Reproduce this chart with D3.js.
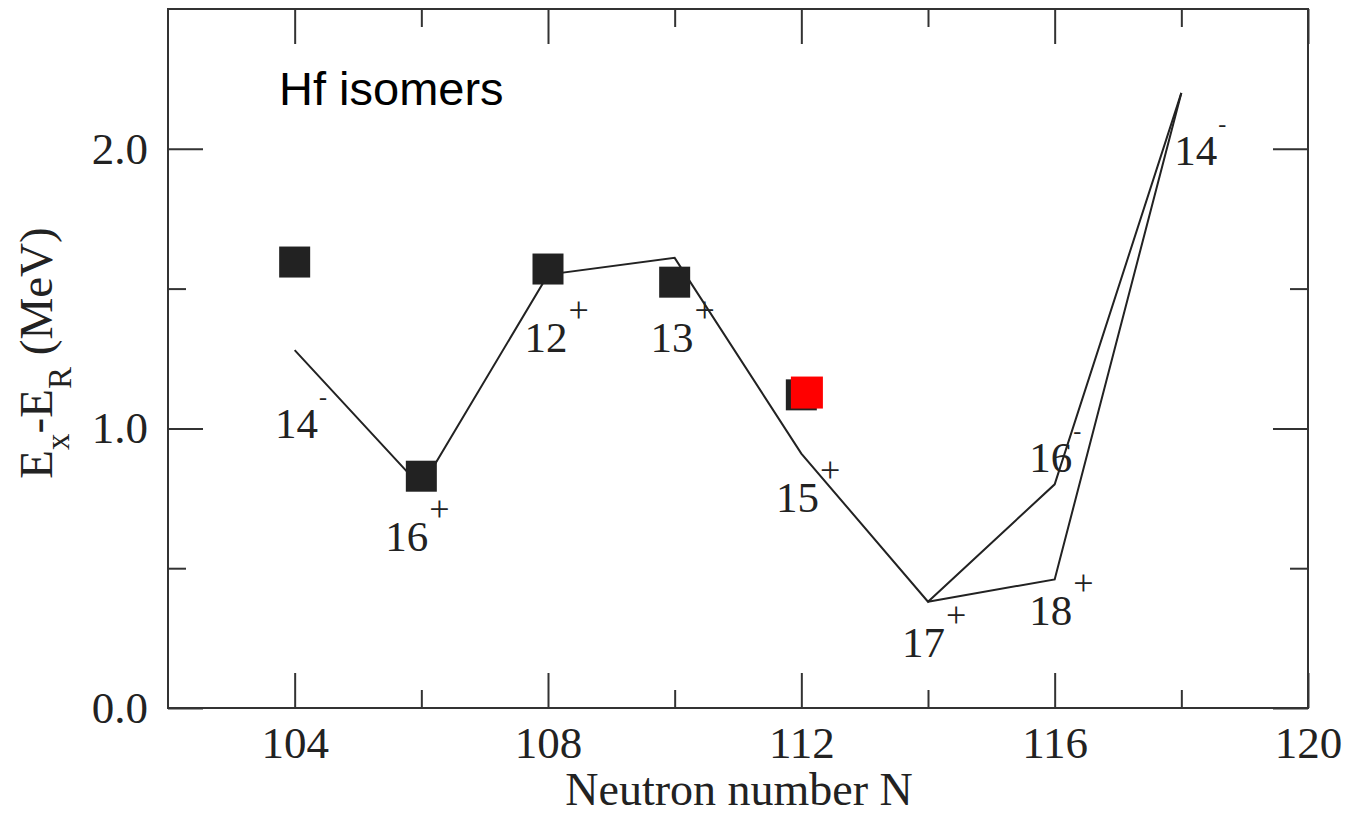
<!DOCTYPE html>
<html>
<head>
<meta charset="utf-8">
<script src="https://cdn.jsdelivr.net/npm/d3@7"></script>
<style>
  body { margin: 0; background: #fff; }
  .axis text { font-family: "Liberation Serif", "Times New Roman", serif; font-size: 45px; fill: #222; }
  .axis line { stroke: #333; stroke-width: 2px; }
  .axis path { display: none; }
</style>
</head>
<body>
<div id="chart"></div>
<script>
// measured isomer energies (squares)
var expN = [104, 106, 108, 110, 112];
var expE = [1.595, 0.829, 1.570, 1.523, 1.12];
var newN = [112.08];
var newE = [1.13];

// calculated curves
var calcN = [104, 106, 108, 110, 112, 114, 116, 118];
var calcE = [1.28, 0.79, 1.55, 1.61, 0.91, 0.38, 0.80, 2.20];
var calc2N = [114, 116, 118];
var calc2E = [0.38, 0.46, 2.20];

// spin/parity labels
var spinText = ["14", "16", "12", "13", "15", "17", "18", "16", "14"];
var spinParity = ["-", "+", "+", "+", "+", "+", "+", "-", "-"];
var spinN = [103.69, 105.43, 107.63, 109.62, 111.60, 113.59, 115.60, 115.60, 117.89];
var spinE = [0.965, 0.562, 1.273, 1.273, 0.701, 0.183, 0.296, 0.844, 1.943];

var majorX = [104, 108, 112, 116, 120];
var minorX = [106, 110, 114, 118];
var majorY = [0, 1, 2];
var minorY = [0.5, 1.5];

(function() {
  var margin = { top: 9, left: 168, right: 41, bottom: 109 },
    width = 1349 - margin.left - margin.right,
    height = 817 - margin.top - margin.bottom;

  var svg = d3.select("#chart")
    .append("svg")
    .attr("width", width + margin.left + margin.right)
    .attr("height", height + margin.top + margin.bottom)
    .append("g")
    .attr("transform", "translate(" + margin.left + "," + margin.top + ")");

  var xPositionScale = d3.scaleLinear().domain([102, 120]).range([0, width]);
  var yPositionScale = d3.scaleLinear().domain([0, 2.5]).range([height, 0]);

  // axes - ticks point inward on all four sides
  svg.append("g").attr("class", "axis x-axis")
    .attr("transform", "translate(0," + height + ")")
    .call(d3.axisBottom(xPositionScale).tickValues(majorX).tickSize(-35).tickPadding(18).tickFormat(d3.format("d")));
  svg.append("g").attr("class", "axis")
    .attr("transform", "translate(0," + height + ")")
    .call(d3.axisBottom(xPositionScale).tickValues(minorX).tickSize(-18).tickFormat(""));
  svg.append("g").attr("class", "axis")
    .call(d3.axisTop(xPositionScale).tickValues(majorX).tickSize(-35).tickFormat(""));
  svg.append("g").attr("class", "axis")
    .call(d3.axisTop(xPositionScale).tickValues(minorX).tickSize(-18).tickFormat(""));

  svg.append("g").attr("class", "axis y-axis")
    .call(d3.axisLeft(yPositionScale).tickValues(majorY).tickSize(-35).tickPadding(20).tickFormat(d3.format(".1f")));
  svg.append("g").attr("class", "axis")
    .call(d3.axisLeft(yPositionScale).tickValues(minorY).tickSize(-18).tickFormat(""));
  svg.append("g").attr("class", "axis")
    .attr("transform", "translate(" + width + ",0)")
    .call(d3.axisRight(yPositionScale).tickValues(majorY).tickSize(-35).tickFormat(""));
  svg.append("g").attr("class", "axis")
    .attr("transform", "translate(" + width + ",0)")
    .call(d3.axisRight(yPositionScale).tickValues(minorY).tickSize(-18).tickFormat(""));

  // frame
  svg.append("rect")
    .attr("width", width)
    .attr("height", height)
    .attr("fill", "none")
    .attr("stroke", "#333")
    .attr("stroke-width", 2);

  // calculated lines
  var line = d3.line()
    .x(function(d) { return xPositionScale(d[0]); })
    .y(function(d) { return yPositionScale(d[1]); });

  svg.append("path")
    .datum(d3.zip(calcN, calcE))
    .attr("d", line)
    .attr("fill", "none")
    .attr("stroke", "#222")
    .attr("stroke-width", 2);

  svg.append("path")
    .datum(d3.zip(calc2N, calc2E))
    .attr("d", line)
    .attr("fill", "none")
    .attr("stroke", "#222")
    .attr("stroke-width", 2);

  // squares
  var size = 31;
  svg.selectAll(".exp")
    .data(d3.zip(expN, expE))
    .enter().append("rect")
    .attr("class", "exp")
    .attr("x", function(d) { return xPositionScale(d[0]) - size / 2; })
    .attr("y", function(d) { return yPositionScale(d[1]) - size / 2; })
    .attr("width", size)
    .attr("height", size)
    .attr("fill", "#222");

  svg.selectAll(".new")
    .data(d3.zip(newN, newE))
    .enter().append("rect")
    .attr("class", "new")
    .attr("x", function(d) { return xPositionScale(d[0]) - size / 2; })
    .attr("y", function(d) { return yPositionScale(d[1]) - size / 2; })
    .attr("width", size + 1)
    .attr("height", size + 1)
    .attr("fill", "#ff0000");

  // spin labels
  var labels = svg.selectAll(".spin")
    .data(d3.range(spinText.length))
    .enter().append("text")
    .attr("class", "spin")
    .attr("x", function(i) { return xPositionScale(spinN[i]); })
    .attr("y", function(i) { return yPositionScale(spinE[i]); })
    .style("font-family", "'Liberation Serif', 'Times New Roman', serif")
    .style("font-size", "43px")
    .attr("fill", "#222");

  labels.append("tspan")
    .text(function(i) { return spinText[i]; });
  labels.append("tspan")
    .attr("dx", 1)
    .attr("dy", function(i) { return spinParity[i] == "+" ? -30 : -33; })
    .style("font-size", function(i) { return spinParity[i] == "+" ? "36px" : "24px"; })
    .text(function(i) { return spinParity[i]; });

  // annotation
  svg.append("text")
    .attr("x", 111)
    .attr("y", 96)
    .style("font-family", "'Liberation Sans', Arial, sans-serif")
    .style("font-size", "47px")
    .attr("fill", "#000")
    .text("Hf isomers");

  // axis titles
  svg.append("text")
    .attr("x", width / 2 + 1)
    .attr("y", height + 97)
    .style("text-anchor", "middle")
    .style("font-family", "'Liberation Serif', 'Times New Roman', serif")
    .style("font-size", "46px")
    .attr("fill", "#222")
    .text("Neutron number N");

  var ytitle = svg.append("text")
    .attr("transform", "translate(" + (52 - margin.left) + "," + (353 - margin.top) + ") rotate(-90)")
    .style("text-anchor", "middle")
    .style("font-family", "'Liberation Serif', 'Times New Roman', serif")
    .style("font-size", "47px")
    .attr("fill", "#222");
  ytitle.append("tspan").text("E");
  ytitle.append("tspan").attr("dy", 17).style("font-size", "33px").text("x");
  ytitle.append("tspan").attr("dy", -17).text("-E");
  ytitle.append("tspan").attr("dy", 19).style("font-size", "33px").text("R");
  ytitle.append("tspan").attr("dy", -19).text(" (MeV)");
})();
</script>
</body>
</html>
